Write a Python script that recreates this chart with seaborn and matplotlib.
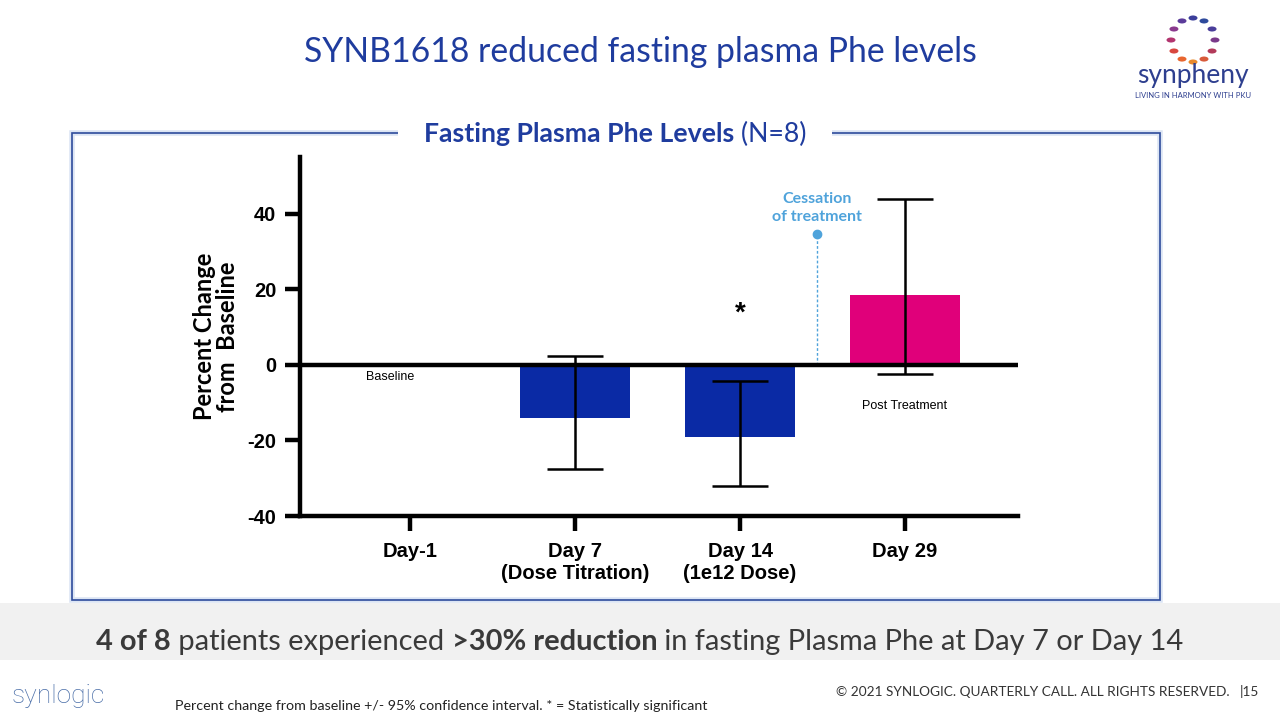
import numpy as np
import pandas as pd
import matplotlib
matplotlib.use("Agg")
import matplotlib.pyplot as plt
import matplotlib.patches as patches
import seaborn as sns

# --- data ---
days = ["Day-1", "Day 7\n(Dose Titration)", "Day 14\n(1e12 Dose)", "Day 29"]
pct_change = [0.0, -14.0, -19.1, 18.5]
ci_low = [0.0, -27.5, -32.0, -2.4]
ci_high = [0.0, 2.4, -4.2, 44.0]
bar_colors = ["#0A2AA5", "#0A2AA5", "#0A2AA5", "#E0007A"]
y_ticks = [-40, -20, 0, 20, 40]

BLUE_TITLE = "#1F3C9E"
CAL = ["Lato", "DejaVu Sans"]
ARIAL = ["Liberation Sans", "DejaVu Sans"]

sns.set_theme(style="white")
plt.rcParams["font.family"] = CAL
plt.rcParams["text.color"] = "black"
plt.rcParams["axes.labelcolor"] = "black"
plt.rcParams["xtick.color"] = "black"
plt.rcParams["ytick.color"] = "black"

fig = plt.figure(figsize=(12.8, 7.2), dpi=100)

# --- framed panel ---
frame = patches.Rectangle((72 / 1280, 1 - 600 / 720), (1160 - 72) / 1280, (600 - 133) / 720,
                          transform=fig.transFigure, fill=False, edgecolor="#DCE5F4", lw=4, zorder=0)
fig.patches.append(frame)
frame2 = patches.Rectangle((72 / 1280, 1 - 600 / 720), (1160 - 72) / 1280, (600 - 133) / 720,
                           transform=fig.transFigure, fill=False, edgecolor="#2E4C9C", lw=1.2, zorder=1)
fig.patches.append(frame2)

# --- bar chart ---
ax = fig.add_axes([300 / 1280, 1 - 516 / 720, (1018 - 300) / 1280, (516 - 157) / 720])
df = pd.DataFrame({"day": days, "pct": pct_change})
sns.barplot(data=df, x="day", y="pct", hue="day", palette=bar_colors, legend=False,
            width=0.667, ax=ax, saturation=1, zorder=2)
for patch in ax.patches:
    patch.set_edgecolor("none")

x = np.arange(len(days))
lo = np.array(pct_change) - np.array(ci_low)
hi = np.array(ci_high) - np.array(pct_change)
for i in range(1, len(days)):
    ax.errorbar(x[i], pct_change[i], yerr=[[lo[i]], [hi[i]]], fmt="none", ecolor="black",
                elinewidth=1.8, capsize=20, capthick=1.8, zorder=3)

ax.axhline(0, color="black", lw=3.2, zorder=4)
ax.set_xlim(-0.667, 3.685)
ax.set_ylim(-40, 55)
ax.set_yticks(y_ticks)
ax.set_yticklabels([str(t) for t in y_ticks], fontsize=14.5, fontweight="bold", family=ARIAL)
ax.set_xticks(x)
ax.set_xticklabels(days, fontsize=14.5, fontweight="bold", family=ARIAL, linespacing=1.2)
ax.tick_params(axis="both", length=11, width=3.2, color="black", labelcolor="black",
               direction="out", bottom=True, left=True, pad=6)
ax.tick_params(axis="x", pad=8)
for side in ["top", "right"]:
    ax.spines[side].set_visible(False)
for side in ["left", "bottom"]:
    ax.spines[side].set_linewidth(3.2)
    ax.spines[side].set_color("black")
ax.set_xlabel("")
ax.set_ylabel("Percent Change\nfrom  Baseline", fontsize=17, fontweight="bold", family=CAL,
              linespacing=1.0, labelpad=6, color="black")
ax.patch.set_alpha(0)

# annotations inside the chart
ax.text(-0.12, -3.3, "Baseline", ha="center", va="center", fontsize=9, family=ARIAL)
ax.text(3, -11, "Post Treatment", ha="center", va="center", fontsize=9, family=ARIAL)
ax.text(2, 13.5, "*", ha="center", va="center", fontsize=20, fontweight="bold", family=ARIAL)
ax.plot([2.467, 2.467], [0, 34.7], ls=(0, (2, 1.5)), color="#4FA3DB", lw=1, zorder=1)
ax.plot([2.467], [34.7], "o", color="#4FA3DB", ms=6, zorder=5)
ax.text(2.467, 41.5, "Cessation\nof treatment", ha="center", va="center", fontsize=11.5,
        fontweight="bold", color="#4FA3DB", linespacing=1.3)

# --- titles ---
fig.text(0.5, 1 - 52 / 720, "SYNB1618 reduced fasting plasma Phe levels", ha="center", va="center",
         fontsize=24.3, color=BLUE_TITLE)

fig.canvas.draw()
renderer = fig.canvas.get_renderer()


def chained(parts, xc, y, size, color, bg=None):
    """Write text segments one after another, centred as a whole on xc (figure px)."""
    objs = []
    for txt, w in parts:
        t = fig.text(0, 1 - y / 720, txt, ha="left", va="center", fontsize=size, color=color,
                     fontweight=w, family=CAL, zorder=5)
        objs.append(t)
    widths = [o.get_window_extent(renderer).width for o in objs]
    total = sum(widths)
    cur = xc - total / 2
    for o, w in zip(objs, widths):
        o.set_x(cur / 1280)
        cur += w
    if bg is not None:
        fig.patches.append(patches.Rectangle(((xc - total / 2 - 26) / 1280, 1 - (y + 16) / 720),
                                             (total + 52) / 1280, 32 / 720, transform=fig.transFigure,
                                             facecolor=bg, edgecolor="none", zorder=2))
    return objs


chained([("Fasting Plasma Phe Levels", "bold"), (" (N=8)", "normal")], 615, 134, 19.2,
        BLUE_TITLE, bg="white")

# gray summary band
fig.patches.append(patches.Rectangle((0, 1 - 660 / 720), 1, 57 / 720, transform=fig.transFigure,
                                     facecolor="#F1F1F1", edgecolor="none", zorder=0))
chained([("4 of 8", "bold"), (" patients experienced ", "normal"), (">30% reduction", "bold"),
         (" in fasting Plasma Phe at Day 7 or Day 14", "normal")], 640, 642, 20.9, "#3A3A3A")

# footer
fig.text(12 / 1280, 1 - 696 / 720, "synlogic", fontsize=19, color="#4A6EA8", va="center",
         family=["Roboto", "DejaVu Sans"], fontweight="light")
fig.text(175 / 1280, 1 - 706 / 720,
         "Percent change from baseline +/- 95% confidence interval. * = Statistically significant",
         fontsize=10.3, color="#222222", va="center")
fig.text(1230 / 1280, 1 - 692 / 720, "\u00a9 2021 SYNLOGIC. QUARTERLY CALL. ALL RIGHTS RESERVED.",
         fontsize=9.8, color="#333333", va="center", ha="right")
fig.text(1240 / 1280, 1 - 692 / 720, "|15", fontsize=9.8, color="#333333", va="center", ha="left")

# synpheny logo (simple rendition)
ring = ["#3B3E9A", "#5B3B9A", "#8A3A8E", "#B2356F", "#D8473F", "#E8662F", "#E88A2C",
        "#D85A3A", "#B23A5A", "#7A3A8A", "#4A3E9A", "#2E4A9C"]
ang = np.linspace(90, 450, len(ring), endpoint=False)
cx, cy, r = 1193, 40, 22
for a, c in zip(ang, ring):
    px = cx + r * np.cos(np.radians(a))
    py = cy - r * np.sin(np.radians(a))
    fig.patches.append(patches.Circle((px / 1280, 1 - py / 720), 4.5 / 1280, transform=fig.transFigure,
                                      facecolor=c, edgecolor="none"))
fig.text(1193 / 1280, 1 - 76 / 720, "synpheny", ha="center", va="center", fontsize=19,
         color="#2E3F8F", family=CAL)
fig.text(1193 / 1280, 1 - 96 / 720, "LIVING IN HARMONY WITH PKU", ha="center", va="center",
         fontsize=5.5, color="#2E3F8F", family=CAL)

fig.savefig("out.png", dpi=100)
